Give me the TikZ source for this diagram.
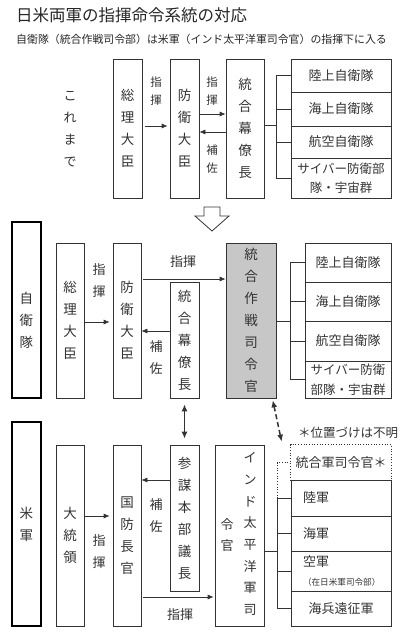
\documentclass[tikz,border=0pt]{standalone}
\usepackage{fontspec}
\setmainfont{Noto Sans CJK JP}
\usepackage{xcolor}
\usepackage{tikz}
\usetikzlibrary{positioning,arrows.meta}

\begin{document}
\begin{tikzpicture}[x=1pt, y=-1pt,
    wire/.style={draw=black!80, line width=0.7pt},
    tate/.style={rectangle, wire, minimum width=29pt, inner sep=0pt, align=center, text=black!80, font=\fontsize{13.5}{22}\selectfont},
    sidebox/.style={tate, draw=black, line width=1.5pt},
    unit/.style={rectangle, wire, minimum width=100pt, inner sep=0pt, align=center, text=black!80, font=\fontsize{13}{20}\selectfont},
    note/.style={inner sep=0pt, align=center, text=black!80, font=\fontsize{11.5}{18}\selectfont},
    note2/.style={note, font=\fontsize{13}{22}\selectfont},
    arrow/.style={->, >={Latex[length=6pt,width=5pt]}, wire}]

\useasboundingbox (0,0) rectangle (403,640);

% Title
\node[anchor=west, inner sep=0pt, text=black!85, font=\fontsize{16.5}{20}\selectfont] (title) at (16,15) {日米両軍の指揮命令系統の対応};
\node[anchor=west, inner sep=0pt, text=black!85, font=\fontsize{10.9}{14}\selectfont] (subtitle) at (16,39) {自衛隊（統合作戦司令部）は米軍（インド太平洋軍司令官）の指揮下に入る};

% Top: before
\node[note2] (kore) at (70,129.5) {こ\\れ\\ま\\で};
\node[tate, minimum height=139pt] (souri0) at (127.5,128.5) {総\\理\\大\\臣};
\node[tate, minimum height=139pt] (bouei0) at (184.5,128.5) {防\\衛\\大\\臣};
\node[tate, minimum width=38pt, minimum height=139pt] (bakuryo0) at (245,128.5) {統\\合\\幕\\僚\\長};
\node[note] (shiki0a) at (156,91) {指\\揮};
\node[note] (shiki0b) at (212,91) {指\\揮};
\node[note] (hosa0) at (212,159) {補\\佐};

\node[unit, minimum height=33pt] (riku0) at (341,75.5) {陸上自衛隊};
\node[unit, minimum height=34pt] (kai0) at (341,109) {海上自衛隊};
\node[unit, minimum height=32pt] (kuu0) at (341,142) {航空自衛隊};
\node[unit, minimum height=40pt, font=\fontsize{12.5}{19}\selectfont] (cyber0) at (341,178) {サイバー防衛部\\隊・宇宙群};

\draw[arrow, shorten <=3pt, shorten >=2pt] (souri0.east |- 0,126) -- (bouei0.west |- 0,126);
\draw[arrow] (bouei0.east |- 0,114) -- (bakuryo0.west |- 0,114);
\draw[arrow] (bakuryo0.west |- 0,132) -- (bouei0.east |- 0,132);

\coordinate (fork0) at (276,125);
\draw[wire] (bakuryo0.east |- fork0) -- (fork0);
\draw[wire] (fork0 |- riku0.west) -- (fork0 |- cyber0.west);
\foreach \n in {riku0,kai0,kuu0,cyber0}
  \draw[wire] (fork0 |- \n.west) -- (\n.west);

% Big hollow arrow
\draw[wire, line width=0.8pt, fill=white] (204,207) -- (220,207) -- (220,216) -- (229,216) -- (212,231) -- (195,216) -- (204,216) -- cycle;

% Middle: Self-Defense Forces
\node[sidebox, minimum height=176pt] (jieitai) at (26.5,310) {};
\node[note2, font=\fontsize{13.5}{22}\selectfont] (jieitaitxt) at (26.5,320) {自\\衛\\隊};
\node[tate, minimum width=28pt, minimum height=155pt] (souri1) at (70,320.5) {総\\理\\大\\臣};
\node[tate, minimum width=28pt, minimum height=155pt] (bouei1) at (127,320.5) {防\\衛\\大\\臣};
\node[tate, minimum height=116pt] (bakuryo1) at (184.5,340) {統\\合\\幕\\僚\\長};
\node[tate, minimum width=50pt, minimum height=155pt, fill=black!22] (sakusen) at (251,320.5) {統\\合\\作\\戦\\司\\令\\官};
\node[note2] (shiki1a) at (99,281) {指\\揮};
\node[note2] (hosa1) at (156,358) {補\\佐};
\node[note2] (shiki1b) at (183,262) {指揮};

\node[unit, minimum width=86pt, minimum height=39pt] (riku1) at (348,262.5) {陸上自衛隊};
\node[unit, minimum width=86pt, minimum height=39pt] (kai1) at (348,301.5) {海上自衛隊};
\node[unit, minimum width=86pt, minimum height=40pt] (kuu1) at (348,341) {航空自衛隊};
\node[unit, minimum width=86pt, minimum height=37pt, font=\fontsize{12.5}{20}\selectfont] (cyber1) at (348,379.5) {サイバー防衛\\部隊・宇宙群};

\draw[arrow, shorten >=3pt] (souri1.east |- 0,322) -- (bouei1.west |- 0,322);
\draw[arrow, shorten <=2pt] (bouei1.east |- 0,279) -- (sakusen.west |- 0,279);
\draw[arrow] (bakuryo1.west |- 0,331) -- (bouei1.east |- 0,331);

\coordinate (fork1) at (290,321);
\draw[wire] (sakusen.east |- fork1) -- (fork1);
\draw[wire] (fork1 |- riku1.west) -- (fork1 |- cyber1.west);
\foreach \n in {riku1,kai1,kuu1,cyber1}
  \draw[wire] (fork1 |- \n.west) -- (\n.west);

% Bottom: US forces
\node[sidebox, minimum height=204pt] (beigun) at (26.5,524) {米\\軍};
\node[tate, minimum width=28pt, minimum height=181pt] (daitoryo) at (70,535.5) {大\\統\\領};
\node[tate, minimum width=28pt, minimum height=181pt] (kokubo) at (127,535.5) {国\\防\\長\\官};
\node[tate, minimum height=146pt] (sanbo) at (184.5,518) {参\\謀\\本\\部\\議\\長};
\node[tate, minimum width=49pt, minimum height=181pt] (indo) at (239.5,535.5) {};
\node[note2, font=\fontsize{13}{21.7}\selectfont] (indotxt) at (250,534) {イ\\ン\\ド\\太\\平\\洋\\軍\\司};
\node[note2, font=\fontsize{13}{21.7}\selectfont] (indotxt2) at (227,535) {令\\官};
\node[note2] (shiki2a) at (99,552) {指\\揮};
\node[note2] (hosa2) at (156,516) {補\\佐};
\node[note2] (shiki2b) at (180,615) {指揮};

\node[note, font=\fontsize{12.5}{16}\selectfont] (fumei) at (348,433) {＊位置づけは不明};
\node[unit, draw=none, minimum height=35pt] (toug) at (341,462.5) {統合軍司令官＊};
\draw[wire, dotted] (toug.south west) -- (toug.north west) -- (toug.north east) -- (toug.south east);
\node[unit, minimum height=36pt, text width=76pt, align=left] (rikugun) at (341,498) {陸軍};
\node[unit, minimum height=35pt, text width=76pt, align=left] (kaigun) at (341,533.5) {海軍};
\node[unit, minimum height=40pt, text width=76pt, align=left] (kuugun) at (341,571) {空軍\\[-1pt]{\fontsize{8.6}{10}\selectfont （在日米軍司令部）}};
\node[unit, minimum height=35pt] (kaiheitai) at (341,608.5) {海兵遠征軍};

\draw[arrow, shorten >=3pt] (daitoryo.east |- 0,516) -- (kokubo.west |- 0,516);
\draw[arrow] (sanbo.west |- 0,480) -- (kokubo.east |- 0,480);
\draw[arrow, shorten <=2pt, shorten >=1pt] (kokubo.east |- 0,597) -- (indo.west |- 0,597);

\coordinate (fork2) at (277,551);
\draw[wire] (indo.east |- fork2) -- (fork2);
\draw[wire] (fork2 |- rikugun.west) -- (fork2 |- kaiheitai.west);
\foreach \n in {rikugun,kaigun,kuugun,kaiheitai}
  \draw[wire] (fork2 |- \n.west) -- (\n.west);
\draw[wire, dotted] (fork2 |- rikugun.west) -- (fork2 |- toug.west) -- ++(11,0);

% Links between the two sides
\draw[arrow, <->, >={Latex[length=7pt,width=6pt]}, line width=1.4pt, shorten <=6pt, shorten >=6pt] (bakuryo1.south) -- (sanbo.north);
\draw[arrow, <->, >={Latex[length=7pt,width=6pt]}, line width=1.5pt, dash pattern=on 5pt off 3pt, shorten <=2pt] ([xshift=-4pt]sakusen.south east) -- ([xshift=-9pt,yshift=3pt]toug.north west);

\end{tikzpicture}
\end{document}
